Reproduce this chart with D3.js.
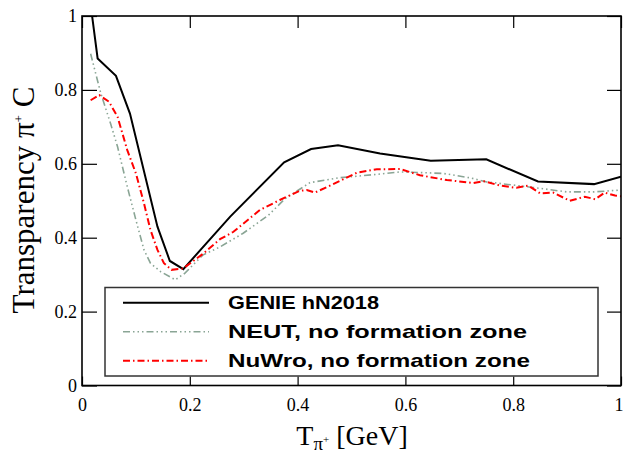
<!DOCTYPE html>
<html>
<head>
<meta charset="utf-8">
<script src="https://cdn.jsdelivr.net/npm/d3@7"></script>
<style>
  body { margin: 0; background: white; }
  svg { display: block; }
</style>
</head>
<body>
<div id="plot"></div>
<script>
// pion transparency on carbon vs kinetic energy

const genieT = [0.0125, 0.029, 0.063, 0.089, 0.140, 0.163, 0.188, 0.275, 0.375, 0.425, 0.475, 0.553, 0.647, 0.75, 0.846, 0.95, 1.0];
const genieV = [1.07, 0.885, 0.838, 0.736, 0.430, 0.337, 0.315, 0.457, 0.604, 0.640, 0.650, 0.628, 0.608, 0.612, 0.552, 0.545, 0.565];

const neutT = [0.016, 0.035, 0.053, 0.066, 0.084, 0.10, 0.115, 0.127, 0.146, 0.173, 0.191, 0.224, 0.256, 0.299, 0.346, 0.377, 0.423, 0.476, 0.544, 0.59, 0.633, 0.67, 0.72, 0.751, 0.837, 0.899, 0.95, 1.0];
const neutV = [0.898, 0.79, 0.709, 0.646, 0.538, 0.448, 0.367, 0.331, 0.308, 0.286, 0.304, 0.353, 0.375, 0.412, 0.461, 0.506, 0.549, 0.562, 0.571, 0.578, 0.576, 0.574, 0.562, 0.551, 0.536, 0.524, 0.524, 0.529];

const nuwroT = [0.016, 0.032, 0.05, 0.066, 0.084, 0.10, 0.115, 0.127, 0.14, 0.152, 0.166, 0.188, 0.224, 0.256, 0.281, 0.33, 0.367, 0.404, 0.417, 0.432, 0.466, 0.51, 0.547, 0.59, 0.627, 0.677, 0.726, 0.745, 0.776, 0.806, 0.828, 0.85, 0.874, 0.905, 0.933, 0.952, 0.97, 0.989, 1.0];
const nuwroV = [0.772, 0.786, 0.768, 0.727, 0.637, 0.574, 0.493, 0.421, 0.367, 0.331, 0.313, 0.317, 0.356, 0.396, 0.416, 0.475, 0.502, 0.527, 0.529, 0.522, 0.545, 0.576, 0.585, 0.586, 0.569, 0.556, 0.548, 0.553, 0.541, 0.535, 0.541, 0.52, 0.522, 0.5, 0.511, 0.504, 0.522, 0.514, 0.512];

const legendNames = ["GENIE hN2018", "NEUT, no formation zone", "NuWro, no formation zone"];
const tickVals = [0, 0.2, 0.4, 0.6, 0.8, 1];

const w = 624;
const h = 453;
const margin = {top: 16, right: 3, bottom: 67.5, left: 82};

const series = [
  {t: genieT, v: genieV, color: "#000", width: 2, dash: null, legendLen: 151},
  {t: neutT, v: neutV, color: "#8aa595", width: 1.6, dash: "7,3,1.5,3,1.5,3,1.5,3", legendLen: 299},
  {t: nuwroT, v: nuwroV, color: "#ff0000", width: 2, dash: "7,3,1.5,3", legendLen: 302}
];

const svg = d3.select("div#plot")
  .append("svg")
  .attr("width", w)
  .attr("height", h);

svg.append("rect")
  .attr("width", w)
  .attr("height", h)
  .attr("fill", "white");

const x = d3.scaleLinear().domain([0, 1]).range([margin.left, w - margin.right]);
const y = d3.scaleLinear().domain([0, 1]).range([h - margin.bottom, margin.top]);

svg.append("clipPath")
  .attr("id", "clip")
  .append("rect")
  .attr("x", x(0))
  .attr("y", y(1))
  .attr("width", x(1) - x(0))
  .attr("height", y(0) - y(1));

// axes, ticks pointing inward
const fmt = d => d3.format("~g")(d);

svg.append("g")
  .attr("transform", `translate(0,${y(0)})`)
  .call(d3.axisBottom(x).tickValues(tickVals).tickFormat(fmt).tickSize(-9).tickPadding(13))
  .call(g => g.select(".domain").remove())
  .call(g => g.selectAll(".tick text").filter(d => d === 1).attr("dx", -2.5));

svg.append("g")
  .attr("transform", `translate(${x(0)},0)`)
  .call(d3.axisLeft(y).tickValues(tickVals).tickFormat(fmt).tickSize(-15).tickPadding(5))
  .call(g => g.select(".domain").remove());

svg.append("g")
  .attr("transform", `translate(0,${y(1)})`)
  .call(d3.axisTop(x).tickValues(tickVals).tickFormat("").tickSize(-12))
  .call(g => g.select(".domain").remove());

svg.append("g")
  .attr("transform", `translate(${x(1)},0)`)
  .call(d3.axisRight(y).tickValues(tickVals).tickFormat("").tickSize(-14))
  .call(g => g.select(".domain").remove());

svg.selectAll(".tick line").attr("stroke", "#000").attr("stroke-width", 1.2);
svg.selectAll(".tick text")
  .attr("fill", "#000")
  .style("font-family", "'Liberation Serif', serif")
  .style("font-size", "18px");

// curves
const line = d3.line()
  .x(d => x(d[0]))
  .y(d => y(d[1]));

series.forEach(s => {
  svg.append("path")
    .datum(s.t.map((t, i) => [t, s.v[i]]))
    .attr("clip-path", "url(#clip)")
    .attr("fill", "none")
    .attr("stroke", s.color)
    .attr("stroke-width", s.width)
    .attr("stroke-dasharray", s.dash)
    .attr("d", line);
});

// frame
svg.append("rect")
  .attr("x", x(0))
  .attr("y", y(1))
  .attr("width", x(1) - x(0))
  .attr("height", y(0) - y(1))
  .attr("fill", "none")
  .attr("stroke", "#000")
  .attr("stroke-width", 1.6);

// legend
const leg = svg.append("g");
leg.append("rect")
  .attr("x", 105)
  .attr("y", 287.5)
  .attr("width", 493)
  .attr("height", 88.5)
  .attr("fill", "white")
  .attr("stroke", "#333")
  .attr("stroke-width", 1.5);

series.forEach((s, i) => {
  const ly = 302.7 + i * 29;
  leg.append("line")
    .attr("x1", 123).attr("x2", 209)
    .attr("y1", ly).attr("y2", ly)
    .attr("stroke", s.color)
    .attr("stroke-width", s.width)
    .attr("stroke-dasharray", s.dash);
  leg.append("text")
    .attr("x", 228)
    .attr("y", ly + 6.5)
    .attr("textLength", s.legendLen)
    .attr("lengthAdjust", "spacingAndGlyphs")
    .style("font-family", "'Liberation Sans', Arial, sans-serif")
    .style("font-weight", "bold")
    .style("font-size", "19px")
    .text(legendNames[i]);
});

// axis titles
const xt = svg.append("text")
  .attr("x", 352)
  .attr("y", 445)
  .attr("text-anchor", "middle")
  .style("font-family", "'Liberation Serif', serif")
  .style("font-size", "28px");
xt.append("tspan").text("T");
xt.append("tspan").attr("dy", 5).style("font-size", "19px").text("π");
xt.append("tspan").attr("dy", -7).style("font-size", "11px").text("+");
xt.append("tspan").attr("dy", 2).text(" [GeV]");

const yt = svg.append("text")
  .attr("transform", "translate(34,200) rotate(-90)")
  .attr("text-anchor", "middle")
  .style("font-family", "'Liberation Serif', serif")
  .style("font-size", "31px");
yt.append("tspan").text("Transparency π");
yt.append("tspan").attr("dy", -11).style("font-size", "13px").text("+");
yt.append("tspan").attr("dy", 11).text(" C");
</script>
</body>
</html>
